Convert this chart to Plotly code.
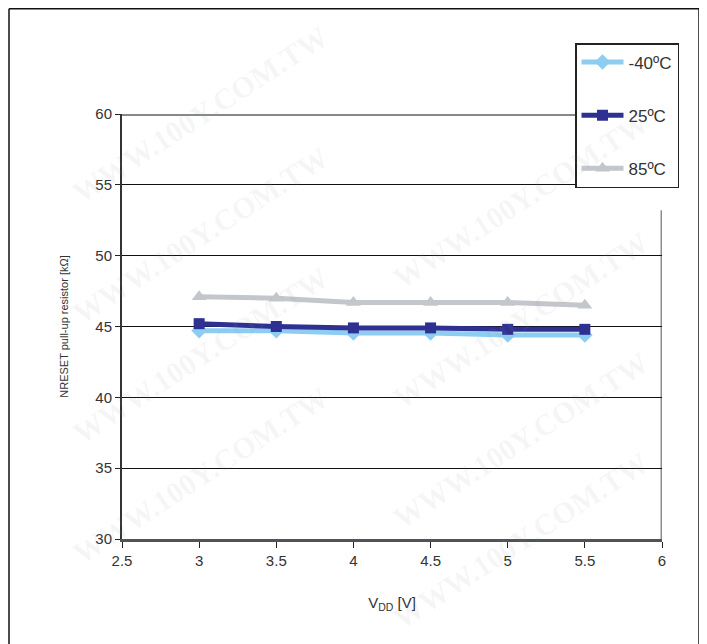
import plotly.graph_objects as go

vdd = [3, 3.5, 4, 4.5, 5, 5.5]
r_m40 = [44.7, 44.7, 44.55, 44.55, 44.4, 44.4]
r_25 = [45.2, 45.0, 44.9, 44.9, 44.8, 44.8]
r_85 = [47.1, 47.0, 46.7, 46.7, 46.7, 46.5]
series_names = ["-40ºC", "25ºC", "85ºC"]
x_ticks = [2.5, 3, 3.5, 4, 4.5, 5, 5.5, 6]
x_tick_labels = ["2.5", "3", "3.5", "4", "4.5", "5", "5.5", "6"]
y_ticks = [30, 35, 40, 45, 50, 55, 60]

FONT = "Liberation Sans Narrow, Arial Narrow, Liberation Sans, sans-serif"

W, H = 699, 636
L, R, T, B = 114, 45, 106, 105
PW, PH = W - L - R, H - T - B


def px2paper(sx, sy):
    # screen pixel (page has an 8px offset) -> paper coords
    return (sx - 8 - L) / PW, 1 - (sy - 8 - T) / PH


fig = go.Figure()
styles = [
    (r_m40, "#8ecdf2", "diamond", 12),
    (r_25, "#2e3192", "square", 11),
    (r_85, "#c3c6ca", "triangle-up", 13),
]
for name, (vals, col, sym, ms) in zip(series_names, styles):
    fig.add_trace(go.Scatter(
        x=vdd, y=vals, name=name, mode="lines+markers", legendgroup=name,
        line=dict(color=col, width=5),
        marker=dict(symbol=sym, size=ms, color=col),
    ))

# watermarks (screen pixel centres), kept inside the canvas and not overlapping
wm_centres = [(200, 115), (200, 235), (200, 355), (200, 475),
              (520, 200), (520, 320), (520, 440), (520, 540)]
for (sx, sy) in wm_centres:
    px, py = px2paper(sx, sy)
    fig.add_annotation(xref="paper", yref="paper", x=px, y=py,
                       xanchor="center", yanchor="middle",
                       text="<b>WWW.100Y.COM.TW</b>", showarrow=False, textangle=-33,
                       font=dict(family="Liberation Serif, serif", size=30,
                                 color="rgba(150,150,150,0.09)"))

# top gray gridline and partial right border
fig.add_shape(type="line", xref="paper", yref="y", x0=0, x1=1, y0=60, y1=60,
              line=dict(color="#85898d", width=4), layer="above")
fig.add_shape(type="line", xref="x", yref="y", x0=6, x1=6, y0=30, y1=53.2,
              line=dict(color="#8a8e93", width=3), layer="below")
# outer frame (left, top, right)
ax0, ay0 = px2paper(9, 8.8)
ax1, ay1 = px2paper(699, 700)
for (x0, y0, x1, y1) in [(ax0, ay0, ax0, ay1), (ax0, ay0, ax1, ay0), (ax1, ay0, ax1, ay1)]:
    fig.add_shape(type="line", xref="paper", yref="paper", x0=x0, y0=y0, x1=x1, y1=y1,
                  line=dict(color="#111", width=1.5))

lx, ly = px2paper(575, 43)
fig.update_layout(
    width=W, height=H,
    margin=dict(l=L, r=R, t=T, b=B, autoexpand=False),
    paper_bgcolor="white", plot_bgcolor="white",
    font=dict(family=FONT, color="#333", size=14),
    showlegend=True,
    legend=dict(x=lx, y=ly, xanchor="left", yanchor="top",
                bgcolor="white", bordercolor="#222", borderwidth=1.5,
                font=dict(family=FONT, size=17, color="#333"),
                tracegroupgap=28, itemwidth=42),
    xaxis=dict(range=[2.5, 6], tickvals=x_ticks, ticktext=x_tick_labels, automargin=False,
               showgrid=False, zeroline=False, showline=True, linecolor="#505357", linewidth=3,
               ticks="outside", ticklen=6, tickcolor="#222",
               tickfont=dict(family=FONT, size=15, color="#333"),
               title=dict(text="V<sub>DD</sub> [V]", font=dict(family=FONT, size=15, color="#333"), standoff=30)),
    yaxis=dict(range=[30, 60], tickvals=y_ticks, automargin=False,
               showgrid=True, gridcolor="#111", gridwidth=1, zeroline=False,
               showline=True, linecolor="#333", linewidth=2,
               ticks="outside", ticklen=5, tickcolor="#222",
               tickfont=dict(family=FONT, size=15, color="#333"),
               title=dict(text="NRESET pull-up resistor [kΩ]", font=dict(family="Liberation Sans, Arial, sans-serif", size=11, color="#333"), standoff=24)),
)

fig.write_html("out.html")
